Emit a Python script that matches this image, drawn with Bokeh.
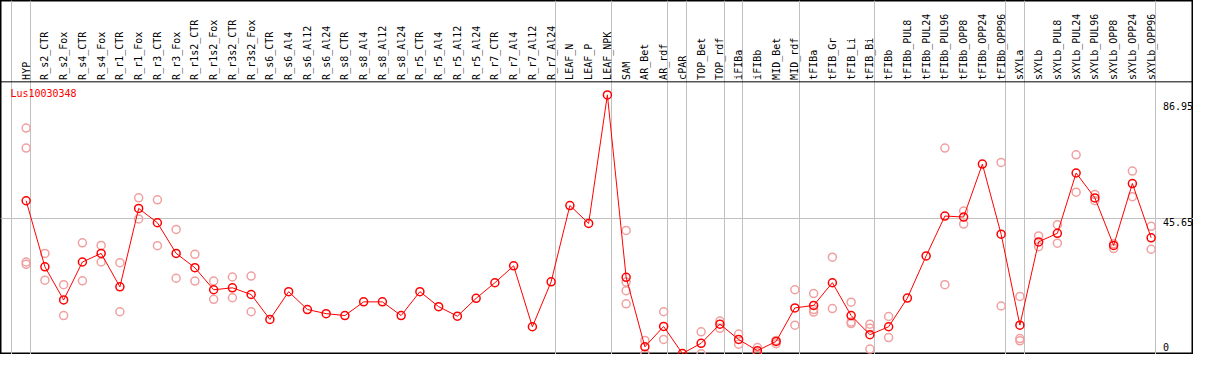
import math
from bokeh.plotting import figure
from bokeh.models import Range1d, Span, Grid, FixedTicker
from bokeh.core.properties import value
from bokeh.embed import file_html
from bokeh.resources import INLINE

# ---------------- data ----------------
title_text = "Lus10030348"

categories = [
    "HYP", "R_s2_CTR", "R_s2_Fox", "R_s4_CTR", "R_s4_Fox", "R_r1_CTR", "R_r1_Fox",
    "R_r3_CTR", "R_r3_Fox", "R_r1s2_CTR", "R_r1s2_Fox", "R_r3s2_CTR", "R_r3s2_Fox",
    "R_s6_CTR", "R_s6_Al4", "R_s6_Al12", "R_s6_Al24",
    "R_s8_CTR", "R_s8_Al4", "R_s8_Al12", "R_s8_Al24",
    "R_r5_CTR", "R_r5_Al4", "R_r5_Al12", "R_r5_Al24",
    "R_r7_CTR", "R_r7_Al4", "R_r7_Al12", "R_r7_Al24",
    "LEAF_N", "LEAF_P", "LEAF_NPK", "SAM", "AR_Bet", "AR_rdf", "cPAR",
    "TOP_Bet", "TOP_rdf", "iFIBa", "iFIBb", "MID_Bet", "MID_rdf",
    "tFIBa", "tFIB_Gr", "tFIB_Li", "tFIB_Bi", "tFIBb",
    "tFIBb_PUL8", "tFIBb_PUL24", "tFIBb_PUL96", "tFIBb_OPP8", "tFIBb_OPP24", "tFIBb_OPP96",
    "sXYLa", "sXYLb",
    "sXYLb_PUL8", "sXYLb_PUL24", "sXYLb_PUL96", "sXYLb_OPP8", "sXYLb_OPP24", "sXYLb_OPP96",
]

means = [
    51.69, 29.70, 18.64, 31.29, 34.16, 23.01, 49.14, 44.36, 34.16, 29.38, 22.05, 22.69, 20.46,
    12.17, 21.41, 15.46, 14.09,
    13.45, 18.01, 18.01, 13.45,
    21.41, 16.41, 13.23, 19.18,
    24.38, 30.02, 9.72, 24.70,
    50.10, 44.14, 86.95, 26.20, 3.03, 9.82, 0.80,
    4.21, 10.58, 5.48, 1.75, 4.84, 16.00,
    16.83, 24.38, 13.45, 7.07, 9.72,
    19.28, 33.30, 46.59, 46.27, 63.89, 40.54,
    10.26, 37.99,
    40.85, 60.93, 52.64, 36.81, 57.43, 39.36,
]

replicates = [
    [75.91, 69.22, 31.29, 30.53], [34.16, 25.24], [23.74, 13.45], [37.67, 25.02],
    [36.81, 31.29], [31.07, 14.72], [52.65, 45.63], [52.01, 36.71], [42.13, 25.88],
    [33.84, 24.92], [24.92, 18.87], [26.29, 19.38], [26.61, 14.72],
    [], [], [], [],
    [], [], [], [],
    [], [], [], [],
    [], [], [], [],
    [], [], [], [41.81, 24.60, 21.73, 17.37], [5.16, 0.70], [14.72, 5.48], [],
    [8.03, 0.70], [11.63, 9.18], [7.27, 3.89], [2.80, 1.02], [5.16, 4.08], [22.05, 10.26],
    [20.78, 15.46, 14.60], [32.89, 15.77], [17.91, 11.31, 10.77], [10.58, 9.18, 2.29], [13.13, 6.12],
    [], [], [69.22, 23.74], [48.28, 43.91], [], [64.44, 16.63],
    [19.82, 5.80, 5.04], [39.99, 36.39],
    [43.72, 37.54], [66.99, 54.56], [53.79, 51.69], [37.35, 35.76], [61.57, 53.06], [43.18, 35.53],
]

# indices of the last category of each group (a separator follows each)
group_ends = [-1, 0, 28, 31, 34, 35, 37, 38, 41, 45, 52, 53, 60]

y_ticks = [0, 45.65, 86.95]
y_tick_labels = ["0", "45.65", "86.95"]

# ---------------- layout / style ----------------
W, H = 1193, 354
X_START, X_END = -1.368, 62.26
Y_START, Y_END = 0.478, 118.39
HEADER_LINE_Y = 91.30
HEADER_TEXT_Y = 91.95
GRID_OFFSET = 0.22
LABEL_X = 60.63
LABEL_SHIFT = {0: 3.12, 45.65: -1.19, 86.95: -3.62}
FONT = value("DejaVu Sans Mono")

x_idx = list(range(len(categories)))

p = figure(width=W, height=H,
           x_range=Range1d(X_START, X_END), y_range=Range1d(Y_START, Y_END),
           x_axis_location=None, y_axis_location=None,
           output_backend="svg", toolbar_location=None, min_border=0)
p.xgrid.visible = False
p.ygrid.visible = False
p.outline_line_color = "black"
p.outline_line_width = 2
p.background_fill_color = "white"
p.border_fill_color = "white"

vgrid = Grid(dimension=0, ticker=FixedTicker(ticks=[g + GRID_OFFSET for g in group_ends]),
             grid_line_color="#c0c0c0", grid_line_width=1)
hgrid = Grid(dimension=1, ticker=FixedTicker(ticks=[y_ticks[1]]),
             grid_line_color="#c0c0c0", grid_line_width=1)
p.add_layout(vgrid)
p.add_layout(hgrid)

p.add_layout(Span(location=HEADER_LINE_Y, dimension="width", line_color="black", line_width=1))

# header category labels
p.text(x=x_idx, y=[HEADER_TEXT_Y] * len(categories), text=categories,
       angle=math.pi / 2, text_align="left", text_baseline="middle",
       text_font=FONT, text_font_size="10px", text_color="black")

# title
p.text(x=[-0.84], y=[87.4], text=[title_text], text_align="left", text_baseline="middle",
       text_font=FONT, text_font_size="10px", text_color="red")

# y tick labels
p.text(x=[LABEL_X] * len(y_ticks), y=[t + LABEL_SHIFT[t] for t in y_ticks], text=y_tick_labels,
       text_align="left", text_baseline="middle", text_font=FONT,
       text_font_size="10px", text_color="black")

# replicates
rx, ry = [], []
for i, reps in enumerate(replicates):
    for r in reps:
        rx.append(i)
        ry.append(r)
p.scatter(rx, ry, marker="circle", size=8, fill_color=None,
          line_color="#f0a0a0", line_width=1.5)

# mean line and points
p.line(x_idx, means, line_color="red", line_width=1)
p.scatter(x_idx, means, marker="circle", size=8, fill_color=None,
          line_color="red", line_width=1.5)

open("out.html", "w").write(file_html(p, INLINE))
